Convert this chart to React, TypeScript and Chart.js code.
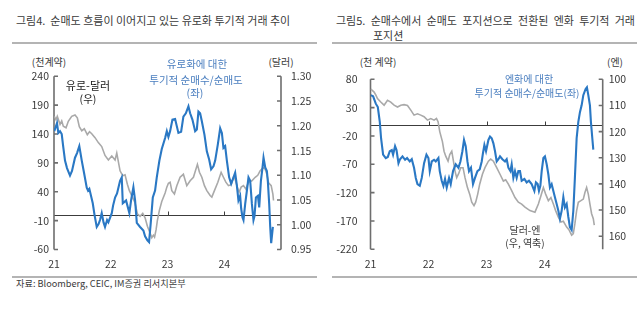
import React, { useEffect, useRef } from 'react';
import { Chart, registerables } from 'chart.js';

Chart.register(...registerables);

// ---------- Data (years as fractional values, e.g. 21.5 = mid-2021) ----------
const yearTicks = [21, 22, 23, 24];

// Figure 4: EUR speculative net positions (thousand contracts, left axis)
const eurNetYears = [21.005, 21.053, 21.076, 21.106, 21.136, 21.164, 21.194, 21.229, 21.282, 21.317, 21.37, 21.406, 21.446, 21.467, 21.489, 21.529, 21.577, 21.6, 21.623, 21.683, 21.714, 21.753, 21.785, 21.811, 21.841, 21.873, 21.899, 21.935, 21.958, 22.018, 22.041, 22.076, 22.111, 22.164, 22.194, 22.212, 22.27, 22.328, 22.358, 22.399, 22.429, 22.459, 22.517, 22.575, 22.605, 22.646, 22.675, 22.705, 22.741, 22.781, 22.811, 22.857, 22.899, 22.958, 22.988, 23.016, 23.046, 23.087, 23.134, 23.192, 23.24, 23.28, 23.323, 23.369, 23.399, 23.439, 23.487, 23.517, 23.545, 23.575, 23.605, 23.651, 23.693, 23.734, 23.769, 23.81, 23.84, 23.887, 23.928, 23.958, 23.986, 24.016, 24.046, 24.086, 24.122, 24.152, 24.192, 24.222, 24.25, 24.28, 24.298, 24.321, 24.339, 24.369, 24.399, 24.427, 24.457, 24.487, 24.515, 24.533, 24.558, 24.593, 24.616, 24.646, 24.674, 24.692, 24.722, 24.751, 24.769, 24.792, 24.81, 24.827, 24.857];
const eurNetValues = [145, 159, 142, 145, 140, 117, 94, 81, 68, 76, 99, 107, 119, 107, 94, 73, 47, 42, 45, 20, 0, -21, -16, -9, 3, -13, -21, -9, -13, 3, 16, 30, 37, 59, 65, 20, 25, 3, 25, 48, 25, -14, -21, -27, -37, -44, -47, -14, 30, 42, 65, 94, 114, 133, 145, 135, 145, 165, 166, 142, 144, 170, 176, 188, 176, 165, 145, 148, 179, 176, 162, 139, 110, 96, 79, 84, 94, 122, 150, 142, 116, 119, 94, 65, 54, 62, 73, 51, 25, 33, 11, -4, -9, 19, 42, 65, 59, 19, -9, -2, 30, 33, 13, 59, 82, 99, 82, 76, 57, 19, -21, -49, -21];

// Figure 4: EUR/USD (dollars, right axis)
const eurUsdYears = [21.005, 21.035, 21.058, 21.106, 21.136, 21.164, 21.212, 21.252, 21.312, 21.37, 21.411, 21.446, 21.489, 21.534, 21.587, 21.626, 21.665, 21.723, 21.781, 21.841, 21.899, 21.958, 22.018, 22.076, 22.106, 22.164, 22.212, 22.252, 22.293, 22.328, 22.37, 22.429, 22.469, 22.517, 22.564, 22.605, 22.646, 22.681, 22.723, 22.751, 22.772, 22.799, 22.822, 22.857, 22.899, 22.958, 22.988, 23.016, 23.046, 23.076, 23.122, 23.164, 23.222, 23.28, 23.34, 23.399, 23.457, 23.527, 23.563, 23.605, 23.651, 23.693, 23.751, 23.781, 23.827, 23.887, 23.945, 23.986, 24.028, 24.074, 24.122, 24.162, 24.192, 24.24, 24.263, 24.298, 24.339, 24.381, 24.427, 24.487, 24.545, 24.59, 24.633, 24.691, 24.721, 24.751, 24.78, 24.827, 24.857, 24.868];
const eurUsdValues = [1.219, 1.212, 1.219, 1.203, 1.21, 1.199, 1.196, 1.209, 1.219, 1.222, 1.216, 1.198, 1.19, 1.194, 1.182, 1.188, 1.184, 1.176, 1.166, 1.158, 1.14, 1.131, 1.139, 1.131, 1.145, 1.109, 1.099, 1.101, 1.082, 1.069, 1.059, 1.044, 1.022, 1.017, 1.023, 1.014, 0.997, 0.987, 0.974, 0.979, 0.975, 0.99, 1.009, 1.029, 1.047, 1.064, 1.076, 1.084, 1.086, 1.069, 1.062, 1.079, 1.096, 1.102, 1.079, 1.089, 1.096, 1.122, 1.106, 1.096, 1.079, 1.069, 1.059, 1.056, 1.069, 1.086, 1.106, 1.096, 1.086, 1.079, 1.081, 1.096, 1.092, 1.072, 1.066, 1.076, 1.079, 1.072, 1.086, 1.089, 1.096, 1.1, 1.109, 1.116, 1.112, 1.102, 1.085, 1.079, 1.062, 1.049];

// Figure 5: JPY speculative net positions (thousand contracts, left axis)
const jpyNetYears = [21.005, 21.045, 21.091, 21.126, 21.16, 21.182, 21.217, 21.263, 21.298, 21.332, 21.367, 21.389, 21.423, 21.448, 21.482, 21.509, 21.551, 21.596, 21.63, 21.676, 21.711, 21.75, 21.78, 21.809, 21.849, 21.883, 21.923, 21.964, 21.998, 22.021, 22.055, 22.095, 22.124, 22.17, 22.193, 22.227, 22.256, 22.284, 22.313, 22.353, 22.382, 22.422, 22.468, 22.515, 22.549, 22.583, 22.611, 22.64, 22.67, 22.697, 22.731, 22.766, 22.8, 22.842, 22.881, 22.916, 22.938, 22.962, 22.99, 23.031, 23.059, 23.088, 23.117, 23.145, 23.174, 23.203, 23.231, 23.272, 23.317, 23.346, 23.375, 23.41, 23.432, 23.461, 23.489, 23.518, 23.547, 23.575, 23.604, 23.651, 23.69, 23.73, 23.776, 23.823, 23.85, 23.88, 23.902, 23.926, 23.949, 23.978, 24.005, 24.035, 24.064, 24.091, 24.121, 24.15, 24.177, 24.207, 24.236, 24.263, 24.293, 24.322, 24.349, 24.379, 24.408, 24.435, 24.465, 24.494, 24.521, 24.551, 24.58, 24.608, 24.637, 24.666, 24.706, 24.728, 24.752, 24.78, 24.797, 24.821, 24.838];
const jpyNetValues = [52, 50, 37, 31, 5, -24, -53, -59, -57, -47, -45, -53, -38, -45, -68, -61, -56, -62, -59, -65, -61, -76, -94, -105, -108, -94, -68, -53, -59, -82, -65, -62, -65, -59, -82, -99, -108, -96, -111, -94, -105, -82, -70, -76, -65, -47, -27, -38, -65, -82, -76, -105, -94, -82, -79, -65, -50, -36, -47, -27, -21, -24, -33, -47, -65, -61, -56, -61, -65, -61, -76, -82, -70, -94, -82, -94, -82, -82, -99, -96, -102, -99, -105, -117, -102, -105, -117, -108, -82, -59, -56, -70, -88, -111, -105, -117, -128, -140, -152, -166, -152, -128, -146, -140, -163, -181, -186, -152, -94, -24, 5, 22, 34, 52, 63, 66, 52, 34, 5, -24, -44];

// Figure 5: USD/JPY (yen, right axis, inverted)
const usdJpyYears = [21.005, 21.062, 21.091, 21.12, 21.177, 21.234, 21.293, 21.349, 21.406, 21.465, 21.522, 21.578, 21.637, 21.694, 21.75, 21.809, 21.866, 21.923, 21.981, 22.038, 22.095, 22.136, 22.164, 22.193, 22.239, 22.267, 22.296, 22.336, 22.365, 22.4, 22.429, 22.456, 22.485, 22.52, 22.554, 22.594, 22.628, 22.67, 22.709, 22.744, 22.783, 22.812, 22.847, 22.881, 22.928, 22.972, 23.031, 23.071, 23.117, 23.174, 23.231, 23.289, 23.329, 23.375, 23.432, 23.489, 23.547, 23.604, 23.661, 23.747, 23.833, 23.892, 23.936, 23.978, 24.017, 24.064, 24.108, 24.15, 24.189, 24.236, 24.281, 24.322, 24.379, 24.418, 24.465, 24.494, 24.521, 24.551, 24.58, 24.625, 24.666, 24.694, 24.723, 24.752, 24.78, 24.809, 24.838, 24.855];
const usdJpyValues = [103.7, 104.9, 106, 107.4, 108.7, 109.9, 108, 108.7, 109.9, 110.6, 109.9, 109.7, 110, 111.8, 113.7, 113.2, 113.7, 114.3, 115.6, 115, 115.6, 115, 116.2, 120, 123.8, 127.5, 129.4, 131.3, 128.8, 127.5, 131.3, 135.1, 137.6, 136, 133.8, 133.8, 137.6, 141.4, 143.9, 147, 148.3, 147, 143.9, 140.1, 136.3, 133.8, 131.3, 130.5, 131.3, 133.8, 136.3, 138.9, 138.4, 140.1, 142.6, 145.2, 147, 147.7, 148.9, 150.2, 150.8, 147.7, 144.5, 141.4, 143.9, 146.4, 145.2, 147.7, 150.2, 152.7, 154.6, 154.3, 156.5, 157.5, 159.6, 159, 155.2, 150.2, 147, 146.4, 145.8, 143.3, 141.4, 143.9, 147.7, 151.4, 153.3, 155.8];

// ---------- Styling ----------
const FONT = '"Noto Sans CJK KR", "Noto Sans", sans-serif';
const BLUE = '#2a78c4';
const GRAY = '#a9a9a9';
const TEXT = '#3a3a3a';
const LABEL_BLUE = '#4a7ebf';

const decorPlugin = {
  id: 'decor',
  beforeDatasetsDraw(chart: any, _args: any, opts: any) {
    const { ctx, chartArea: ca, scales } = chart;
    const y0 = Math.round(scales.y.getPixelForValue(0)) + 0.5;
    ctx.save();
    // zero line with small year ticks
    ctx.strokeStyle = '#3c3c3c';
    ctx.lineWidth = 1;
    ctx.beginPath();
    ctx.moveTo(ca.left, y0);
    ctx.lineTo(ca.right, y0);
    for (const yr of opts.zeroTicks || []) {
      const x = Math.round(scales.x.getPixelForValue(yr)) + 0.5;
      ctx.moveTo(x, y0);
      ctx.lineTo(x, y0 - 4);
    }
    ctx.stroke();
    // axis lines with inward ticks
    ctx.strokeStyle = '#6e6e6e';
    ctx.lineWidth = 1.6;
    ctx.beginPath();
    ctx.moveTo(ca.left, ca.top);
    ctx.lineTo(ca.left, ca.bottom);
    for (const t of scales.y.ticks) {
      const y = scales.y.getPixelForValue(t.value);
      ctx.moveTo(ca.left, y);
      ctx.lineTo(ca.left + 4, y);
    }
    ctx.moveTo(ca.right, ca.top);
    ctx.lineTo(ca.right, ca.bottom);
    for (const t of scales.y1.ticks) {
      if (opts.skipRight && opts.skipRight.includes(t.value)) continue;
      const y = scales.y1.getPixelForValue(t.value);
      ctx.moveTo(ca.right, y);
      ctx.lineTo(ca.right - 4, y);
    }
    ctx.stroke();
    ctx.restore();
  },
};

type PanelProps = {
  left: number;
  top: number;
  width: number;
  height: number;
  padTop: number;
  leftW: number;
  rightW: number;
  bottomH: number;
  leftPad: number;
  rightPad: number;
  y: { min: number; max: number; step: number };
  y1: { min: number; max: number; step: number; reverse: boolean; digits: number; hide?: number[] };
  blue: { xs: number[]; ys: number[] };
  gray: { xs: number[]; ys: number[] };
};

function Panel(p: PanelProps) {
  const ref = useRef<HTMLCanvasElement | null>(null);
  useEffect(() => {
    if (!ref.current) return;
    const tickFont = { family: FONT, size: 10.5 };
    const chart = new Chart(ref.current, {
      type: 'line',
      data: {
        datasets: [
          {
            data: p.blue.xs.map((x, i) => ({ x, y: p.blue.ys[i] })),
            borderColor: BLUE,
            borderWidth: 2.1,
            pointRadius: 0,
            tension: 0,
            yAxisID: 'y',
          },
          {
            data: p.gray.xs.map((x, i) => ({ x, y: p.gray.ys[i] })),
            borderColor: GRAY,
            borderWidth: 1.6,
            pointRadius: 0,
            tension: 0,
            yAxisID: 'y1',
          },
        ],
      },
      options: {
        animation: false,
        responsive: false,
        events: [],
        layout: { autoPadding: false, padding: { top: p.padTop, left: 0, right: 0, bottom: 0 } },
        plugins: {
          legend: { display: false },
          tooltip: { enabled: false },
          decor: { zeroTicks: [22, 23, 24], skipRight: p.y1.hide || [] },
        } as any,
        scales: {
          x: {
            type: 'linear',
            min: 21,
            max: 25,
            afterFit: (s: any) => { s.height = p.bottomH; },
            grid: { display: false, drawTicks: false },
            border: { display: false },
            ticks: {
              stepSize: 1,
              padding: 8,
              color: TEXT,
              font: tickFont,
              maxRotation: 0,
              autoSkip: false,
              callback: (v: any) => (yearTicks.includes(Number(v)) ? String(v) : ''),
            },
          },
          y: {
            type: 'linear',
            position: 'left',
            min: p.y.min,
            max: p.y.max,
            afterFit: (s: any) => { s.width = p.leftW; },
            grid: { display: false, drawTicks: false },
            border: { display: false },
            ticks: { stepSize: p.y.step, padding: p.leftPad, color: TEXT, font: tickFont },
          },
          y1: {
            type: 'linear',
            position: 'right',
            min: p.y1.min,
            max: p.y1.max,
            reverse: p.y1.reverse,
            afterFit: (s: any) => { s.width = p.rightW; },
            grid: { display: false, drawTicks: false },
            border: { display: false },
            ticks: {
              stepSize: p.y1.step,
              padding: p.rightPad,
              color: TEXT,
              font: tickFont,
              callback: (v: any) =>
                p.y1.hide && p.y1.hide.some((h) => Math.abs(h - Number(v)) < 1e-6)
                  ? ''
                  : Number(v).toFixed(p.y1.digits),
            },
          },
        },
      },
      plugins: [decorPlugin],
    } as any);
    return () => chart.destroy();
  }, []);
  return (
    <canvas
      ref={ref}
      width={p.width}
      height={p.height}
      style={{ position: 'absolute', left: p.left, top: p.top, width: p.width, height: p.height }}
    />
  );
}

function T(props: {
  x: number;
  y: number;
  text: string;
  size?: number;
  color?: string;
  align?: 'left' | 'center';
  justifyWidth?: number;
}) {
  const { x, y, text, size = 10.5, color = TEXT, align = 'left', justifyWidth } = props;
  const style: any = {
    position: 'absolute',
    left: x,
    top: y,
    transform: align === 'center' ? 'translate(-50%, -50%)' : 'translateY(-50%)',
    fontSize: size,
    lineHeight: 1,
    color,
    whiteSpace: justifyWidth ? 'nowrap' : 'pre',
    fontFamily: FONT,
  };
  if (justifyWidth) {
    style.width = justifyWidth;
    style.textAlign = 'justify';
    style.textAlignLast = 'justify';
    style.whiteSpace = 'normal';
  }
  return <div style={style}>{text}</div>;
}

function Rule(props: { x1: number; x2: number; y: number }) {
  return (
    <div
      style={{
        position: 'absolute',
        left: props.x1,
        top: props.y - 1,
        width: props.x2 - props.x1,
        height: 2,
        background: '#b4b4b4',
      }}
    />
  );
}

export default function App() {
  return (
    <div
      style={{
        position: 'fixed',
        left: 0,
        top: 0,
        width: 640,
        height: 324,
        background: '#ffffff',
        overflow: 'hidden',
        fontFamily: FONT,
      }}
    >
      {/* Titles */}
      <T x={16} y={20} size={11} text={'그림4.  순매도 흐름이 이어지고 있는 유로화 투기적 거래 추이'} />
      <T x={336} y={20} size={11} justifyWidth={299} text={'그림5. 순매수에서 순매도 포지션으로 전환된 엔화 투기적 거래'} />
      <T x={373} y={35} size={11} text={'포지션'} />
      <Rule x1={12} x2={317} y={43} />
      <Rule x1={332} x2={637} y={43} />

      {/* Unit labels */}
      <T x={49} y={62} text={'(천계약)'} size={10} align="center" />
      <T x={281} y={62} text={'(달러)'} size={10} align="center" />
      <T x={378} y={62} text={'(천 계약)'} size={10} align="center" />
      <T x={615} y={62} text={'(엔)'} size={10} align="center" />

      <Panel
        left={0}
        top={60}
        width={320}
        height={210}
        padTop={14.5}
        leftW={54}
        rightW={39}
        bottomH={20.5}
        leftPad={5}
        rightPad={10}
        y={{ min: -60, max: 240, step: 50 }}
        y1={{ min: 0.95, max: 1.3, step: 0.05, reverse: false, digits: 2 }}
        blue={{ xs: eurNetYears, ys: eurNetValues }}
        gray={{ xs: eurUsdYears, ys: eurUsdValues }}
      />
      <Panel
        left={320}
        top={60}
        width={320}
        height={210}
        padTop={17}
        leftW={50.5}
        rightW={37.3}
        bottomH={20.7}
        leftPad={13}
        rightPad={6}
        y={{ min: -220, max: 80, step: 50 }}
        y1={{ min: 100, max: 165, step: 10, reverse: true, digits: 0, hide: [165] }}
        blue={{ xs: jpyNetYears, ys: jpyNetValues }}
        gray={{ xs: usdJpyYears, ys: usdJpyValues }}
      />

      {/* In-chart annotations */}
      <T x={88} y={85} text={'유로-달러'} size={11} color="#1a1a1a" align="center" />
      <T x={88} y={99} text={'(우)'} size={10.5} color="#1a1a1a" align="center" />
      <T x={197} y={64} text={'유로화에 대한'} size={10.5} color={LABEL_BLUE} align="center" />
      <T x={196} y={80} text={'투기적 순매수/순매도'} size={10.5} color={LABEL_BLUE} align="center" />
      <T x={195} y={93} text={'(좌)'} size={10.5} color={LABEL_BLUE} align="center" />

      <T x={529} y={79} text={'엔화에 대한'} size={10} color={LABEL_BLUE} align="center" />
      <T x={527} y={93} text={'투기적 순매수/순매도(좌)'} size={10} color={LABEL_BLUE} align="center" />
      <T x={525} y={230} text={'달러-엔'} size={10} color={TEXT} align="center" />
      <T x={525} y={243} text={'(우, 역축)'} size={10} color={TEXT} align="center" />

      {/* Source & bottom rules */}
      <Rule x1={12} x2={317} y={277} />
      <Rule x1={332} x2={637} y={277} />
      <T x={16} y={284} text={'자료: Bloomberg, CEIC, IM증권 리서치본부'} size={9.2} />
    </div>
  );
}
